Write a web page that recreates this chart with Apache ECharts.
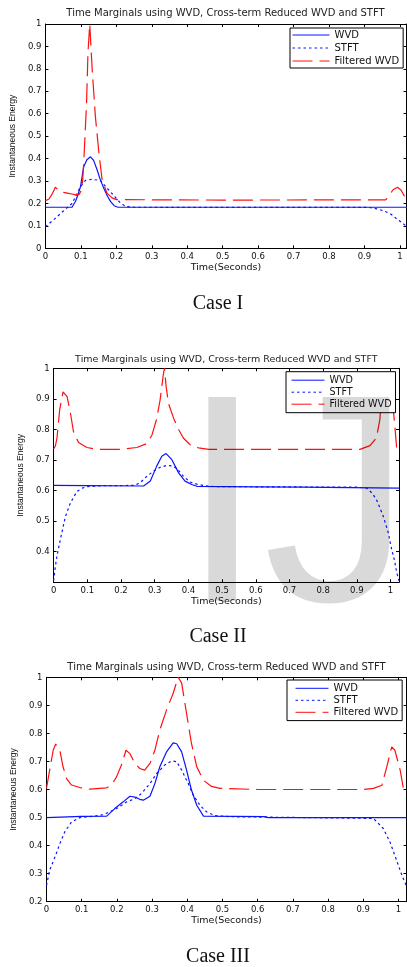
<!DOCTYPE html>
<html>
<head>
<meta charset="utf-8">
<title>Time Marginals</title>
<script src="https://cdn.jsdelivr.net/npm/echarts@6/dist/echarts.min.js"></script>
<style>
html, body { margin: 0; padding: 0; background: #fff; }
#main { width: 407px; height: 967px; }
</style>
</head>
<body>
<div id="main"></div>
<script>
// tick values
var xTicks = [0, 0.1, 0.2, 0.3, 0.4, 0.5, 0.6, 0.7, 0.8, 0.9, 1];
var yTicks1 = [0, 0.1, 0.2, 0.3, 0.4, 0.5, 0.6, 0.7, 0.8, 0.9, 1];
var yTicks2 = [0.4, 0.5, 0.6, 0.7, 0.8, 0.9, 1];
var yTicks3 = [0.2, 0.3, 0.4, 0.5, 0.6, 0.7, 0.8, 0.9, 1];
var seriesNames = ['WVD', 'STFT', 'Filtered WVD'];
var captions = ['Case I', 'Case II', 'Case III'];

// Case I  [time, energy]
var c1Wvd = [[0,0.183],[0.075,0.183],[0.085,0.21],[0.092,0.24],[0.099,0.275],[0.108,0.364],[0.117,0.395],[0.127,0.408],
  [0.136,0.392],[0.146,0.349],[0.155,0.305],[0.165,0.267],[0.175,0.232],[0.184,0.208],[0.194,0.19],[0.203,0.184],[0.6,0.183],[1.02,0.183]];
var c1Stft = [[0,0.096],[0.025,0.13],[0.05,0.165],[0.075,0.2],[0.088,0.24],[0.099,0.275],[0.113,0.303],[0.13,0.307],[0.155,0.303],
  [0.17,0.275],[0.19,0.24],[0.21,0.205],[0.226,0.186],[0.25,0.183],[0.913,0.182],[0.935,0.176],[0.956,0.166],[0.975,0.152],
  [0.989,0.134],[1.005,0.115],[1.02,0.096]];
var c1Filt = [[0,0.212],[0.01,0.22],[0.02,0.245],[0.028,0.272],[0.035,0.262],[0.045,0.25],[0.055,0.248],[0.065,0.245],[0.075,0.242],
  [0.085,0.238],[0.095,0.24],[0.1,0.255],[0.105,0.3],[0.108,0.379],[0.116,0.646],[0.12,0.87],[0.125,1.0],[0.132,0.795],[0.141,0.587],
  [0.151,0.424],[0.16,0.305],[0.174,0.245],[0.188,0.225],[0.2,0.217],[0.5,0.215],[0.96,0.216],[0.97,0.235],[0.98,0.26],[0.993,0.272],
  [1.003,0.26],[1.012,0.235],[1.02,0.215]];

// Case II
var c2Wvd = [[0,0.617],[0.1,0.616],[0.267,0.615],[0.287,0.631],[0.306,0.68],[0.321,0.712],[0.334,0.721],[0.351,0.701],[0.371,0.658],
  [0.39,0.631],[0.41,0.62],[0.425,0.614],[0.6,0.612],[0.74,0.611],[0.745,0.609],[1.025,0.608]];
var c2Stft = [[0,0.305],[0.005,0.35],[0.01,0.387],[0.02,0.44],[0.035,0.515],[0.05,0.56],[0.069,0.597],[0.085,0.608],[0.1,0.613],
  [0.15,0.616],[0.24,0.617],[0.257,0.626],[0.277,0.647],[0.296,0.663],[0.316,0.676],[0.335,0.682],[0.352,0.681],[0.366,0.672],
  [0.385,0.647],[0.405,0.628],[0.425,0.621],[0.45,0.616],[0.48,0.613],[0.9,0.611],[0.929,0.608],[0.945,0.592],[0.958,0.571],
  [0.978,0.517],[0.993,0.463],[1.003,0.409],[1.012,0.37],[1.018,0.333],[1.025,0.305]];
var c2Filt = [[0,0.736],[0.005,0.745],[0.01,0.772],[0.018,0.864],[0.028,0.923],[0.04,0.907],[0.05,0.853],[0.059,0.793],[0.074,0.757],
  [0.099,0.741],[0.13,0.735],[0.2,0.735],[0.247,0.741],[0.277,0.754],[0.292,0.782],[0.305,0.831],[0.316,0.896],[0.326,0.983],
  [0.329,1.0],[0.334,0.94],[0.341,0.885],[0.356,0.837],[0.371,0.8],[0.385,0.772],[0.405,0.75],[0.43,0.74],[0.46,0.735],[0.7,0.735],
  [0.909,0.735],[0.939,0.747],[0.958,0.772],[0.968,0.831],[0.973,0.896],[0.98,0.95],[0.995,0.97],[1.005,0.9],[1.012,0.82],
  [1.018,0.74],[1.025,0.735]];

// Case III
var c3Wvd = [[0,0.5],[0.1,0.504],[0.171,0.505],[0.194,0.532],[0.218,0.556],[0.237,0.576],[0.251,0.573],[0.265,0.565],[0.275,0.562],
  [0.294,0.576],[0.308,0.621],[0.322,0.681],[0.341,0.734],[0.36,0.766],[0.37,0.763],[0.384,0.734],[0.398,0.669],[0.412,0.598],
  [0.427,0.544],[0.446,0.505],[0.62,0.503],[0.63,0.5],[1.023,0.5]];
var c3Stft = [[0,0.258],[0.009,0.312],[0.024,0.359],[0.038,0.407],[0.052,0.449],[0.071,0.484],[0.095,0.5],[0.13,0.504],[0.161,0.51],
  [0.199,0.532],[0.228,0.556],[0.251,0.567],[0.27,0.586],[0.294,0.621],[0.313,0.657],[0.336,0.687],[0.355,0.702],[0.37,0.699],
  [0.384,0.669],[0.403,0.621],[0.417,0.58],[0.436,0.544],[0.455,0.52],[0.479,0.507],[0.52,0.503],[0.929,0.497],[0.957,0.461],
  [0.976,0.413],[0.995,0.347],[1.01,0.294],[1.023,0.255]];
var c3Filt = [[0,0.604],[0.009,0.669],[0.019,0.74],[0.026,0.762],[0.038,0.74],[0.047,0.681],[0.057,0.639],[0.071,0.616],[0.095,0.607],
  [0.123,0.601],[0.171,0.606],[0.185,0.616],[0.199,0.645],[0.213,0.687],[0.226,0.74],[0.237,0.728],[0.251,0.693],[0.265,0.675],
  [0.279,0.669],[0.294,0.693],[0.308,0.74],[0.322,0.812],[0.341,0.883],[0.36,0.943],[0.374,1.0],[0.384,0.98],[0.398,0.871],
  [0.412,0.764],[0.427,0.681],[0.446,0.633],[0.469,0.611],[0.493,0.604],[0.6,0.6],[0.9,0.6],[0.929,0.604],[0.953,0.615],
  [0.967,0.681],[0.981,0.752],[0.99,0.74],[1.005,0.669],[1.014,0.604],[1.023,0.6]];

// panel layout (px)
var panels = [
  { grid: {left: 44.5, top: 24, width: 362, height: 224.3}, xMax: 1.0186, yMin: 0, yTicks: yTicks1,
    titleTop: 8, titleSize: 10, nameGap: 22,
    legend: {left: 290, top: 28, itemWidth: 37, itemHeight: 10, itemGap: 3, padding: [2, 4, 2, 2], fontSize: 10},
    data: [c1Wvd, c1Stft, c1Filt], capY: 304 },
  { grid: {left: 53.6, top: 368.3, width: 345.4, height: 214}, xMax: 1.025, yMin: 0.3, yTicks: yTicks2,
    titleTop: 354.5, titleSize: 9.5, nameGap: 22,
    legend: {left: 286, top: 371.7, itemWidth: 33, itemHeight: 9, itemGap: 2, padding: [3.5, 4, 3.5, 5], fontSize: 9.6},
    data: [c2Wvd, c2Stft, c2Filt], capY: 637 },
  { grid: {left: 46.5, top: 677.3, width: 360, height: 224.4}, xMax: 1.023, yMin: 0.2, yTicks: yTicks3,
    titleTop: 662, titleSize: 10, nameGap: 24,
    legend: {left: 287, top: 680, itemWidth: 33, itemHeight: 10, itemGap: 2, padding: [3.3, 4, 3.3, 8], fontSize: 10},
    data: [c3Wvd, c3Stft, c3Filt], capY: 957 }
];

var lineStyles = [
  {color: '#0a14ff', width: 1.2, type: 'solid'},
  {color: '#0a14ff', width: 1.2, type: [2.5, 3]},
  {color: '#ff1010', width: 1.2, type: [20, 7]}
];

function fmt(v) { return String(Math.round(v * 10) / 10); }

var grids = [], xAxes = [], yAxes = [], series = [], titles = [], legends = [], graphics = [];

panels.forEach(function (p, i) {
  grids.push(p.grid);
  var tickStyle = {show: true, inside: true, length: 3, lineStyle: {color: '#000', width: 1}};
  var lineSt = {show: true, onZero: false, lineStyle: {color: '#000', width: 1}};
  var lbl = {color: '#111', fontSize: 8.5, fontFamily: 'DejaVu Sans'};

  xAxes.push({
    type: 'value', gridIndex: i, min: 0, max: p.xMax, position: 'bottom',
    axisLine: lineSt, splitLine: {show: false},
    axisTick: Object.assign({customValues: xTicks}, tickStyle),
    axisLabel: Object.assign({customValues: xTicks, formatter: fmt, margin: 4}, lbl),
    name: 'Time(Seconds)', nameLocation: 'middle', nameGap: 13,
    nameTextStyle: {color: '#111', fontSize: 9.5, fontFamily: 'DejaVu Sans'}
  });
  xAxes.push({
    type: 'value', gridIndex: i, min: 0, max: p.xMax, position: 'top',
    axisLine: lineSt, splitLine: {show: false},
    axisTick: Object.assign({customValues: xTicks}, tickStyle),
    axisLabel: {show: false}
  });
  yAxes.push({
    type: 'value', gridIndex: i, min: p.yMin, max: 1, position: 'left',
    axisLine: lineSt, splitLine: {show: false},
    axisTick: Object.assign({customValues: p.yTicks}, tickStyle),
    axisLabel: Object.assign({customValues: p.yTicks, formatter: fmt, margin: 4}, lbl),
    name: 'Instantaneous Energy', nameLocation: 'middle', nameGap: p.nameGap, nameRotate: 90,
    nameTextStyle: {color: '#111', fontSize: 8.5, fontFamily: 'Liberation Sans'}
  });
  yAxes.push({
    type: 'value', gridIndex: i, min: p.yMin, max: 1, position: 'right',
    axisLine: lineSt, splitLine: {show: false},
    axisTick: Object.assign({customValues: p.yTicks}, tickStyle),
    axisLabel: {show: false}
  });

  p.data.forEach(function (d, k) {
    series.push({
      type: 'line', name: seriesNames[k], xAxisIndex: 2 * i, yAxisIndex: 2 * i,
      data: d, symbol: 'none', showSymbol: false, animation: false, z: 3,
      lineStyle: lineStyles[k], itemStyle: {color: lineStyles[k].color}
    });
  });

  titles.push({
    text: 'Time Marginals using WVD, Cross-term Reduced WVD and STFT',
    left: p.grid.left + p.grid.width / 2, top: p.titleTop, textAlign: 'center', padding: 0,
    textStyle: {color: '#222', fontSize: p.titleSize, fontWeight: 'normal', fontFamily: 'DejaVu Sans'}
  });

  var L = p.legend;
  legends.push({
    orient: 'vertical', left: L.left, top: L.top, data: seriesNames,
    itemWidth: L.itemWidth, itemHeight: L.itemHeight, itemGap: L.itemGap, padding: L.padding,
    backgroundColor: '#fff', borderColor: '#000', borderWidth: 1, borderRadius: 0,
    selectedMode: false,
    itemStyle: {opacity: 0},
    lineStyle: {width: 1},
    textStyle: {color: '#111', fontSize: L.fontSize, fontFamily: 'DejaVu Sans'}
  });

  graphics.push({
    type: 'text', x: 218, y: p.capY, z: 10,
    style: {text: captions[i], fill: '#111', fontSize: 20, fontFamily: 'Liberation Serif',
      align: 'center', verticalAlign: 'middle'}
  });
});

// grey "IJ" watermark over the second panel
graphics.push({
  type: 'text', x: 181, y: 519, z: 100,
  style: {text: 'IJ', fill: 'rgba(0,0,0,0.15)', fontSize: 296, fontFamily: 'Liberation Sans',
    align: 'left', verticalAlign: 'middle'}
});

var chart = echarts.init(document.getElementById('main'));
chart.setOption({
  backgroundColor: '#fff',
  animation: false,
  title: titles,
  legend: legends,
  grid: grids,
  xAxis: xAxes,
  yAxis: yAxes,
  series: series,
  graphic: graphics
});
</script>
</body>
</html>
